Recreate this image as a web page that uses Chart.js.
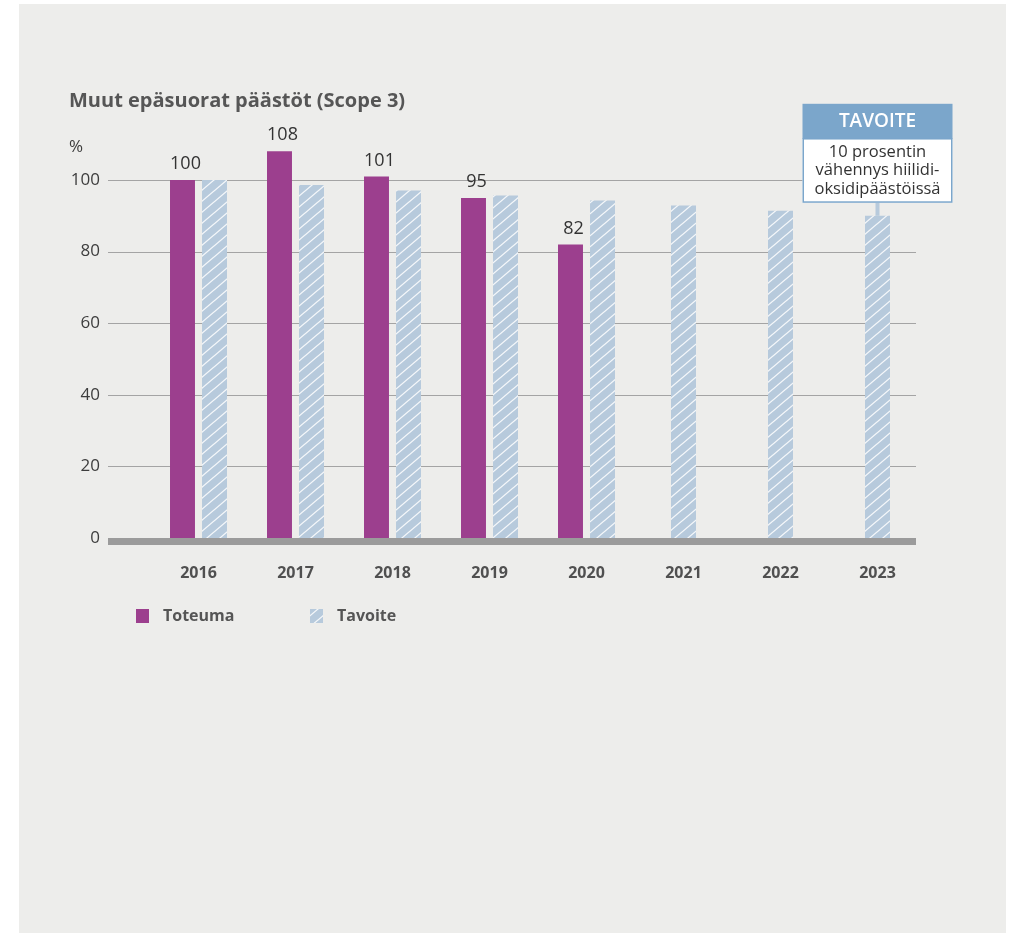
<!DOCTYPE html>
<html>
<head>
<meta charset="utf-8">
<script src="https://cdn.jsdelivr.net/npm/chart.js@4"></script>
<style>
    html, body { margin: 0; background: #fff; }
    #panel { position: absolute; left: 19px; top: 4px; width: 987px; height: 929px; background: #ededeb; }
    canvas { display: block; }
</style>
</head>
<body>
<div id="panel"><canvas id="chart" width="987" height="929"></canvas></div>
<script>
    "use strict";

    // Data
    const years = ["2016", "2017", "2018", "2019", "2020", "2021", "2022", "2023"];
    const actual = [100, 108, 101, 95, 82, null, null, null];
    const target = [100, 98.6, 97.1, 95.7, 94.3, 92.9, 91.4, 90];
    const seriesNames = ["Toteuma", "Tavoite"];
    const yMax = 100;
    const yStep = 20;
    const chartTitle = "Muut epäsuorat päästöt (Scope 3)";
    const unitLabel = "%";
    const noteTitle = "TAVOITE";
    const noteLines = ["10 prosentin", "vähennys hiilidi-", "oksidipäästöissä"];

    const FONT = "'Open Sans', sans-serif";
    const PURPLE = "#9c3f8e";
    const LIGHT_BLUE = "#b7cadc";
    const NOTE_BLUE = "#7ba6cb";

    // hatched fill for the target bars
    function hatchPattern() {
        const w = 13, h = 11;
        const tile = document.createElement("canvas");
        tile.width = w;
        tile.height = h;
        const g = tile.getContext("2d");
        g.fillStyle = LIGHT_BLUE;
        g.fillRect(0, 0, w, h);
        g.strokeStyle = "rgba(255,255,255,0.85)";
        g.lineWidth = 1.3;
        g.beginPath();
        [-w, 0, w].forEach((dx) => {
            g.moveTo(dx - 2, h + 2 * h / w);
            g.lineTo(dx + w + 2, -2 * h / w);
        });
        g.stroke();
        return g.createPattern(tile, "repeat");
    }

    const decor = {
        id: "decor",
        beforeDatasetsDraw(chart) {
            const { ctx, chartArea, scales } = chart;
            ctx.save();
            ctx.strokeStyle = "#a4a4a4";
            ctx.lineWidth = 1;
            scales.y.ticks.forEach((t) => {
                if (t.value === 0) return;
                const y = Math.round(scales.y.getPixelForValue(t.value)) + 0.5;
                ctx.beginPath();
                ctx.moveTo(chartArea.left - 42, y);
                ctx.lineTo(chartArea.right - 10, y);
                ctx.stroke();
            });
            ctx.restore();
        },
        afterDatasetsDraw(chart) {
            const { ctx, chartArea, scales } = chart;
            ctx.save();

            // thick base line
            const y0 = scales.y.getPixelForValue(0);
            ctx.fillStyle = "#9b9b9b";
            ctx.fillRect(chartArea.left - 42, y0, chartArea.right - chartArea.left + 32, 7);

            // value labels over the actual bars
            ctx.fillStyle = "#333";
            ctx.font = "18px " + FONT;
            ctx.textAlign = "center";
            ctx.textBaseline = "middle";
            chart.getDatasetMeta(0).data.forEach((el, i) => {
                if (actual[i] == null) return;
                ctx.fillText(String(actual[i]), el.x + 3, el.y - 16);
            });

            // note box over the last target bar
            const last = chart.getDatasetMeta(1).data[target.length - 1];
            const bw = 150, hh = 35, bh = 64;
            const bottom = last.y - 13;
            const left = last.x - bw / 2;
            ctx.fillStyle = LIGHT_BLUE;
            ctx.fillRect(last.x - 2, bottom, 4, last.y - bottom);
            ctx.fillStyle = "#fff";
            ctx.fillRect(left, bottom - bh, bw, bh);
            ctx.strokeStyle = NOTE_BLUE;
            ctx.lineWidth = 1.5;
            ctx.strokeRect(left + 0.75, bottom - bh, bw - 1.5, bh - 0.75);
            ctx.fillStyle = NOTE_BLUE;
            ctx.fillRect(left, bottom - bh - hh, bw, hh);
            ctx.fillStyle = "#fff";
            ctx.font = "600 19px " + FONT;
            ctx.fillText(noteTitle, last.x, bottom - bh - hh / 2);
            ctx.fillStyle = "#333";
            ctx.font = "16.5px " + FONT;
            noteLines.forEach((line, i) => {
                ctx.fillText(line, last.x, bottom - bh + 13 + i * 18.5);
            });

            // title and unit
            ctx.textAlign = "left";
            ctx.fillStyle = "#565656";
            ctx.font = "bold 20px " + FONT;
            ctx.fillText(chartTitle, chartArea.left - 81, 97);
            ctx.fillStyle = "#3d3d3d";
            ctx.font = "17px " + FONT;
            ctx.fillText(unitLabel, chartArea.left - 81, 143);

            // legend
            const ly = y0 + 78;
            const lx = [chartArea.left - 14, chartArea.left + 160];
            ctx.font = "bold 16px " + FONT;
            chart.data.datasets.forEach((ds, i) => {
                ctx.fillStyle = ds.backgroundColor;
                ctx.fillRect(lx[i], ly - 7, 13, 14);
                ctx.fillStyle = "#555";
                ctx.fillText(ds.label, lx[i] + 27, ly);
            });
            ctx.restore();
        },
    };

    const chart = new Chart(document.getElementById("chart"), {
        type: "bar",
        data: {
            labels: years,
            datasets: [
                { label: seriesNames[0], data: actual, backgroundColor: PURPLE },
                { label: seriesNames[1], data: target, backgroundColor: hatchPattern() },
            ],
        },
        options: {
            responsive: false,
            animation: false,
            layout: { padding: { left: 36, right: 80, top: 176, bottom: 335 } },
            datasets: {
                bar: {
                    skipNull: true,
                    categoryPercentage: 0.66,
                    barPercentage: 0.78,
                    maxBarThickness: 25,
                    clip: false,
                },
            },
            scales: {
                x: {
                    grid: { display: false, drawTicks: false },
                    border: { display: false },
                    ticks: { padding: 26, color: "#505050", font: { family: FONT, size: 16, weight: "bold" } },
                    afterFit: (s) => { s.height = 60; },
                },
                y: {
                    min: 0,
                    max: yMax,
                    grid: { display: false, drawTicks: false },
                    border: { display: false },
                    ticks: { stepSize: yStep, padding: 50, color: "#3d3d3d", font: { family: FONT, size: 17 } },
                    afterFit: (s) => { s.width = 95; },
                },
            },
            plugins: {
                legend: { display: false },
                tooltip: { enabled: false },
            },
        },
        plugins: [decor],
    });
</script>
</body>
</html>
